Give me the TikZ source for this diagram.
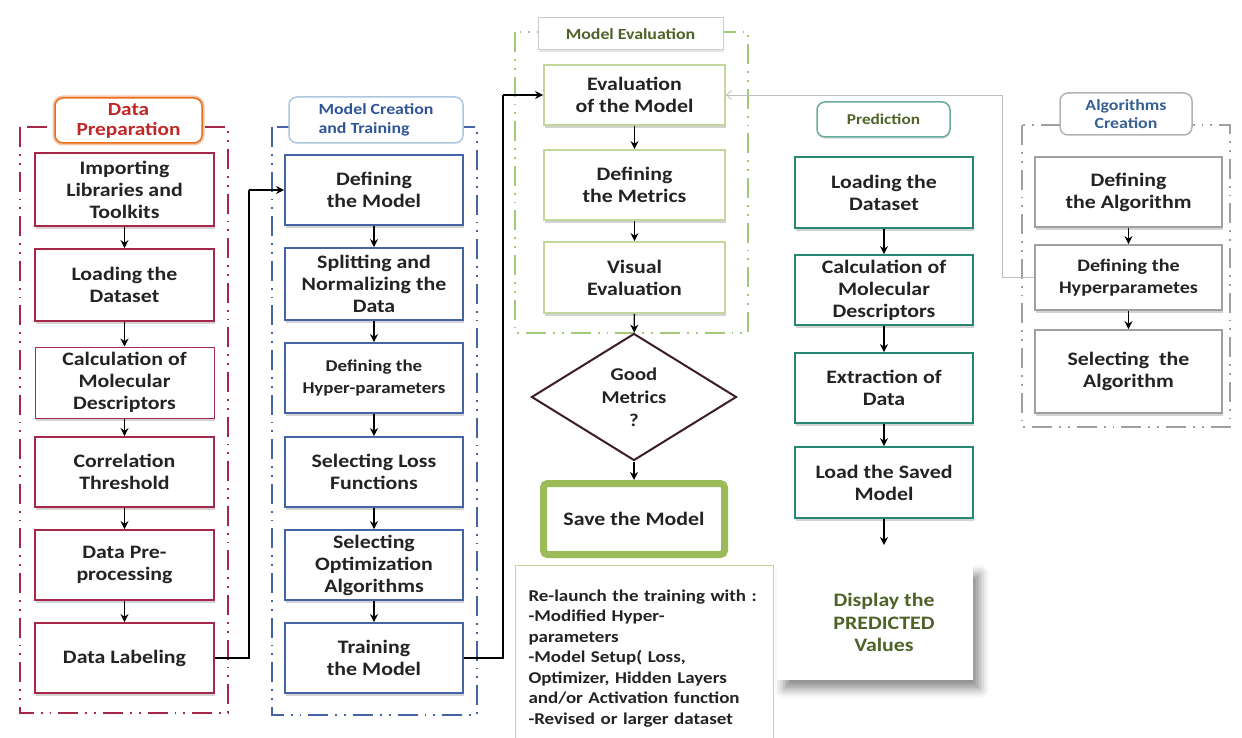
\documentclass[tikz,border=0pt]{standalone}
\usepackage{fontspec}
\setmainfont{Carlito}[FakeStretch=1.15]
\usetikzlibrary{arrows.meta,shapes.geometric,shadows,shadows.blur}
\definecolor{dpc}{RGB}{165,40,75}
\definecolor{dphead}{RGB}{232,110,30}
\definecolor{dptext}{RGB}{192,40,40}
\definecolor{mcc}{RGB}{70,100,165}
\definecolor{mchead}{RGB}{175,198,225}
\definecolor{mctext}{RGB}{47,85,151}
\definecolor{mec}{RGB}{195,214,155}
\definecolor{mecont}{RGB}{165,200,120}
\definecolor{metext}{RGB}{79,98,40}
\definecolor{savec}{RGB}{155,187,89}
\definecolor{prc}{RGB}{40,135,115}
\definecolor{acc}{RGB}{160,160,160}
\definecolor{actext}{RGB}{54,96,146}
\definecolor{txt}{RGB}{35,35,35}
\definecolor{dmc}{RGB}{60,28,45}
\newcommand\bxfont{\bfseries\fontsize{19}{22}\selectfont}
\newcommand\hdfont{\bfseries\fontsize{15.5}{19}\selectfont}
\tikzset{
  box/.style={draw, fill=white, line width=1.8pt, align=center, font=\bxfont,
    text=txt, inner sep=2pt,
    drop shadow={opacity=0.35, shadow xshift=0.5pt, shadow yshift=-3pt}},
  dpbox/.style={box, draw=dpc, minimum width=179pt},
  mcbox/.style={box, draw=mcc, minimum width=178pt},
  mebox/.style={box, draw=mec, minimum width=181pt},
  prbox/.style={box, draw=prc, minimum width=178pt},
  acbox/.style={box, draw=acc, minimum width=187pt},
  cont/.style={line width=#1, dash pattern=on 20pt off 7pt on 1.8pt off 7pt on 1.8pt off 7pt},
  head/.style={fill=white, font=\hdfont, inner sep=2pt},
  arr/.style={-{Stealth[length=8pt,width=8pt]}, line width=1.3pt, black},
  conn/.style={line width=1.2pt, black},
  gconn/.style={line width=0.9pt, black!25, -{Straight Barb[length=5pt,width=9pt]}}
}
\begin{document}
\begin{tikzpicture}[x=1pt,y=-1pt]
\useasboundingbox (0,0) rectangle (1242,738);

% containers
\draw[cont=2.5pt, dpc] (20,127) rectangle (228,713);
\draw[cont=2pt, mcc] (272,127) rectangle (477,715);
\draw[cont=1.8pt, mecont] (515,32) rectangle (748,333);
\draw[cont=1.5pt, acc] (1022,125) rectangle (1230,427);

% headers
\node[head, text=dptext, draw=dphead, line width=1.5pt, rounded corners=8pt,
  preaction={draw=dphead!40, line width=5pt}, font=\bfseries\fontsize{18.5}{20}\selectfont,
  minimum width=147pt, minimum height=45pt, align=center] (dph) at (128.5,120.5) {Data\\Preparation};
\node[head, text=mctext, draw=mchead, line width=1.5pt, rounded corners=8pt,
  minimum width=174pt, minimum height=46pt, align=left] (mch) at (376,120) {Model Creation\\and Training};
\node[head, text=metext, draw=black!20, line width=1pt, font=\bfseries\fontsize{15.5}{17}\selectfont,
  drop shadow={opacity=0.2, shadow xshift=0.5pt, shadow yshift=-2pt},
  minimum width=185pt, minimum height=32pt] (meh) at (630.5,34) {Model Evaluation};
\node[head, text=metext, draw=prc!70, line width=1.5pt, rounded corners=8pt,
  font=\bfseries\fontsize{15}{18}\selectfont,
  drop shadow={opacity=0.2, shadow xshift=0.5pt, shadow yshift=-2pt},
  minimum width=133pt, minimum height=35pt] (prh) at (883.5,119.5) {Prediction\hspace{26pt}};
\node[head, text=actext, draw=acc!80, line width=1.5pt, rounded corners=8pt,
  font=\bfseries\fontsize{15.5}{18}\selectfont, align=center,
  minimum width=132pt, minimum height=42pt] (ach) at (1126,114) {Algorithms\\Creation};

% Data preparation
\node[dpbox, minimum height=73pt] (imp) at (124.5,189.5) {Importing\\Libraries and\\Toolkits};
\node[dpbox, minimum height=72pt] (load) at (124.5,285) {Loading the\\Dataset};
\node[dpbox, minimum height=71pt, line width=1pt] (calc) at (124.5,382.5) {Calculation of\\Molecular\\Descriptors};
\node[dpbox, minimum height=70pt] (corr) at (124.5,472) {Correlation\\Threshold};
\node[dpbox, minimum height=70pt] (prep) at (124.5,565) {Data Pre-\\processing};
\node[dpbox, minimum height=70pt] (lab) at (124.5,658) {Data Labeling};
\draw[arr] (imp) -- (load);
\draw[arr] (load) -- (calc);
\draw[arr] (calc) -- (corr);
\draw[arr] (corr) -- (prep);
\draw[arr] (prep) -- (lab);

% Model creation
\node[mcbox, minimum height=70pt] (dm) at (374,190) {Defining\\the Model};
\node[mcbox, minimum height=72pt] (split) at (374,284) {Splitting and\\Normalizing the\\Data};
\node[mcbox, minimum height=70pt, font=\bfseries\fontsize{16.5}{22}\selectfont] (hyp) at (374,378) {Defining the\\Hyper-parameters};
\node[mcbox, minimum height=70pt] (loss) at (374,472) {Selecting Loss\\Functions};
\node[mcbox, minimum height=70pt] (opt) at (374,565) {Selecting\\Optimization\\Algorithms};
\node[mcbox, minimum height=70pt] (train) at (374,658) {Training\\the Model};
\draw[arr] (dm) -- (split);
\draw[arr] (split) -- (hyp);
\draw[arr] (hyp) -- (loss);
\draw[arr] (loss) -- (opt);
\draw[arr] (opt) -- (train);

% Model evaluation
\node[mebox, minimum height=60pt] (eval) at (634.5,95) {Evaluation\\of the Model};
\node[mebox, minimum height=70pt] (met) at (634.5,185) {Defining\\the Metrics};
\node[mebox, minimum height=71pt] (vis) at (634.5,277.5) {Visual\\Evaluation};
\node[diamond, draw=dmc, line width=2pt, fill=white, minimum width=205pt, minimum height=127pt,
  inner sep=0pt, align=center, font=\bfseries\fontsize{18}{23}\selectfont, text=txt] (gm) at (634,397) {Good\\Metrics\\?};
\node[draw=savec, line width=7pt, rounded corners=4pt, fill=white, minimum width=181pt,
  minimum height=71pt, font=\bxfont, text=txt] (save) at (634,519) {Save the Model};
\node[draw=mec, line width=1pt, fill=white, anchor=north west, align=left,
  text width=232pt, inner xsep=13pt, inner ysep=24pt, text=txt,
  font=\bfseries\fontsize{16.5}{20.5}\selectfont] (relaunch) at (515,565)
  {Re-launch the training with :\\-Modified Hyper-\\parameters\\-Model Setup( Loss,\\Optimizer, Hidden Layers\\and/or Activation function\\-Revised or larger dataset};
\draw[arr] (eval) -- (met);
\draw[arr] (met) -- (vis);
\draw[arr] (vis) -- (gm);
\draw[arr] (gm) -- (save);

% Prediction
\node[prbox, minimum height=71pt] (pload) at (884,192.5) {Loading the\\Dataset};
\node[prbox, minimum height=70pt] (pcalc) at (884,290) {Calculation of\\Molecular\\Descriptors};
\node[prbox, minimum height=70pt] (pextr) at (884,388) {Extraction of\\Data};
\node[prbox, minimum height=71pt] (psaved) at (884,482.5) {Load the Saved\\Model};
\coordinate (pend) at (884,545);
\node[fill=white, minimum width=196pt, minimum height=115pt, align=center,
  text=metext, font=\bfseries\fontsize{19}{22.5}\selectfont,
  blur shadow={shadow xshift=7pt, shadow yshift=-9pt, shadow blur radius=9pt, shadow opacity=45}]
  (disp) at (875,622.5) {\hspace{18pt}Display the\\\hspace{18pt}PREDICTED\\\hspace{18pt}Values};
\draw[arr] (pload) -- (pcalc);
\draw[arr] (pcalc) -- (pextr);
\draw[arr] (pextr) -- (psaved);
\draw[arr] (psaved) -- (pend);

% Algorithms creation
\node[acbox, minimum height=70pt] (ada) at (1128.5,192) {Defining\\the Algorithm};
\node[acbox, minimum height=65pt, font=\bfseries\fontsize{17.5}{22}\selectfont] (ahp) at (1128.5,277.5) {Defining the\\Hyperparametes};
\node[acbox, minimum height=83pt] (asa) at (1128.5,371.5) {Selecting~ the\\Algorithm};
\draw[arr] (ada) -- (ahp);
\draw[arr] (ahp) -- (asa);

% connectors
\coordinate (j1) at (249,0);
\coordinate (j2) at (503,0);
\coordinate (j3) at (1002,0);
\draw[conn] (lab.east) -- (lab.east -| j1) -- (dm.west -| j1);
\draw[arr] (dm.west -| j1) -- (dm.west);
\draw[conn] (train.east) -- (train.east -| j2) -- (eval.west -| j2);
\draw[arr] (eval.west -| j2) -- (eval.west);
\draw[gconn] (ahp.west) -- (ahp.west -| j3) -- (eval.east -| j3) -- (eval.east);
\end{tikzpicture}
\end{document}
